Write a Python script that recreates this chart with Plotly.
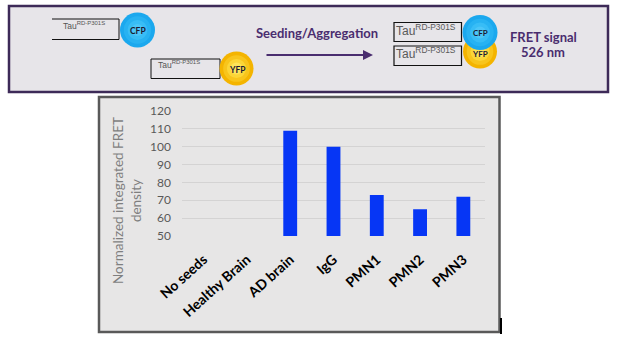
import plotly.graph_objects as go

W, H = 619, 339

# chart data
categories = ["No seeds", "Healthy Brain", "AD brain", "IgG", "PMN1", "PMN2", "PMN3"]
fret_density = [None, None, 109, 100, 73, 65, 72]  # no-seed / healthy values fall below the 50 axis floor
y_ticks = [50, 60, 70, 80, 90, 100, 110, 120]

y_title = "Normalized integrated FRET<br>density"
tau_label = "Tau<sup>RD-P301S</sup>"


def X(px):
    return px / W


def Y(py):
    return 1 - py / H


shapes = []
annotations = []


def rect(x0, y0, x1, y1, line=None, fill=None, width=1, layer="below"):
    shapes.append(dict(type="rect", xref="paper", yref="paper",
                       x0=X(x0), x1=X(x1), y0=Y(y1), y1=Y(y0),
                       line=dict(color=line or "rgba(0,0,0,0)", width=width if line else 0),
                       fillcolor=fill or "rgba(0,0,0,0)", layer=layer))


def seg(x0, y0, x1, y1, color, width):
    shapes.append(dict(type="line", xref="paper", yref="paper",
                       x0=X(x0), x1=X(x1), y0=Y(y0), y1=Y(y1),
                       line=dict(color=color, width=width), layer="below"))


def ball(cx, cy, r, colors):
    # concentric discs give a soft radial shading
    n = len(colors)
    for i, c in enumerate(colors):
        rr = r * (1 - i / (n + 0.6))
        shapes.append(dict(type="circle", xref="paper", yref="paper",
                           x0=X(cx - rr), x1=X(cx + rr), y0=Y(cy + rr), y1=Y(cy - rr),
                           line=dict(width=0), fillcolor=c, layer="below"))


def text(x, y, s, size, color, family="Lato", angle=0, bold=False):
    if bold:
        s = "<b>" + s + "</b>"
    annotations.append(dict(xref="paper", yref="paper", x=X(x), y=Y(y), text=s,
                            showarrow=False, xanchor="center", yanchor="middle",
                            textangle=angle, font=dict(size=size, color=color, family=family)))


CFP = ["#1ba8ee", "#27b2f2", "#38bdf6", "#4cc6f8"]
YFP = ["#f4b400", "#f8c51c", "#fbd638", "#fde35a"]
PURPLE = "#4a2d6f"

# --- schematic panel ---
rect(9, 6, 608, 92, line="#3d2a58", fill="#e7e5e9", width=2.5)

# free Tau-CFP (box open on its left side)
seg(52, 19, 119, 19, "#111111", 1)
seg(52, 39.5, 119, 39.5, "#111111", 1)
seg(119, 19, 119, 39.5, "#111111", 1)
ball(137.5, 30, 17.5, CFP)
text(84, 26, tau_label, 8.5, "#555555", family="Liberation Sans")
text(138, 31, "CFP", 8.5, "#1b1b33", bold=True)

# free Tau-YFP
rect(151, 59, 220, 78.5, line="#111111", width=1)
ball(236.5, 68.5, 17, YFP)
text(179, 64, tau_label, 8.5, "#555555", family="Liberation Sans")
text(237, 70, "YFP", 8.5, "#1b1b33", bold=True)

# seeding arrow
text(317, 33, "Seeding/Aggregation", 13, PURPLE, bold=True)
annotations.append(dict(xref="paper", yref="paper", x=X(373), y=Y(55), ax=-108, ay=0,
                        text="", showarrow=True, arrowhead=2, arrowsize=1,
                        arrowwidth=2, arrowcolor=PURPLE))

# aggregated pair
rect(394, 22.5, 461.5, 41.5, line="#111111", width=1.2)
rect(394, 46, 461.5, 65.5, line="#111111", width=1.2)
ball(480, 51.5, 17, YFP)
ball(480, 32.5, 17.5, CFP)
text(426, 30, tau_label, 12, "#595959", family="Liberation Sans")
text(426, 53, tau_label, 12, "#595959", family="Liberation Sans")
text(480, 33, "CFP", 8, "#1b1b33", bold=True)
text(480, 54, "YFP", 8, "#1b1b33", bold=True)
text(543, 37, "FRET signal", 13, PURPLE, bold=True)
text(543, 52, "526 nm", 13, PURPLE, bold=True)

# --- chart panel ---
rect(99, 97, 499.5, 332, line="#595959", fill="#e7e6e6", width=2.5)
seg(501, 318, 501, 334, "#000000", 2)
text(127, 201, y_title, 13.5, "#7f7f7f", angle=-90)

fig = go.Figure(go.Bar(
    x=categories, y=fret_density, width=0.32,
    marker=dict(color="#0636f5", line=dict(width=0)),
))

fig.update_layout(
    width=W, height=H,
    margin=dict(l=0, r=0, t=0, b=0),
    paper_bgcolor="white",
    plot_bgcolor="rgba(0,0,0,0)",
    showlegend=False,
    shapes=shapes,
    annotations=annotations,
    xaxis=dict(domain=[X(182), X(485)], showgrid=False, zeroline=False, showline=False,
               tickangle=-42, automargin=False, ticks="outside", ticklen=9,
               tickcolor="rgba(0,0,0,0)",
               tickfont=dict(family="Lato", size=14, color="#000000", weight="bold")),
    yaxis=dict(domain=[Y(236), Y(111)], range=[50, 120], tickvals=y_ticks,
               showgrid=True, gridcolor="#d4d3d3", gridwidth=1, zeroline=False,
               showline=False, automargin=False, ticklabelstandoff=10,
               tickfont=dict(family="Lato", size=12, color="#595959")),
)

fig.write_html("out.html")
